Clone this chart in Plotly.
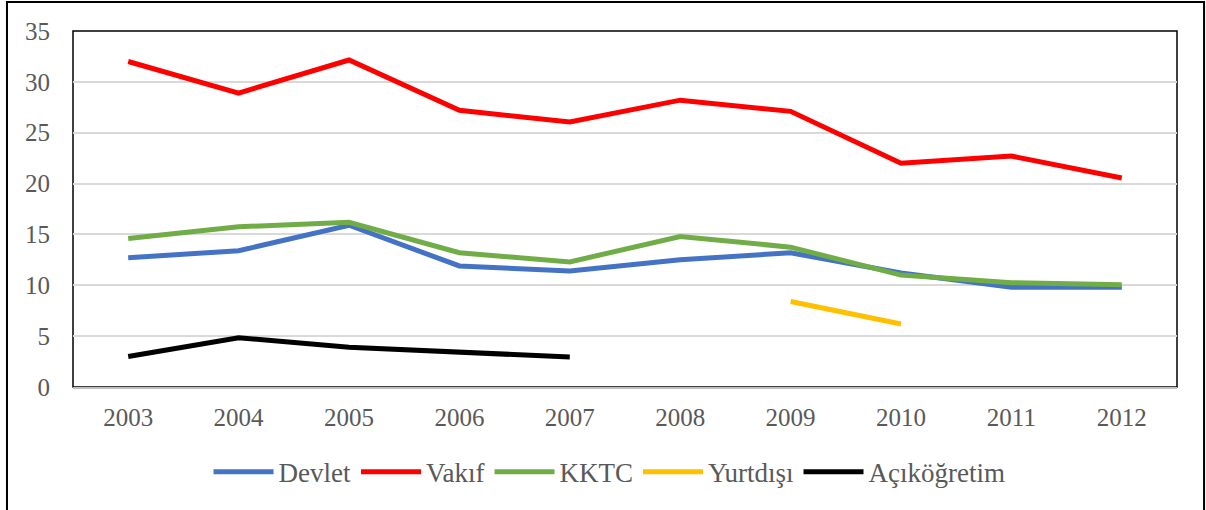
import plotly.graph_objects as go

years = ["2003", "2004", "2005", "2006", "2007", "2008", "2009", "2010", "2011", "2012"]
devlet = [12.7, 13.4, 15.9, 11.9, 11.4, 12.5, 13.2, 11.2, 9.8, 9.8]
vakif = [32.0, 28.9, 32.15, 27.2, 26.05, 28.2, 27.1, 22.0, 22.7, 20.55]
kktc = [14.6, 15.75, 16.2, 13.2, 12.3, 14.8, 13.75, 11.0, 10.25, 10.05]
yurtdisi = [None, None, None, None, None, None, 8.4, 6.2, None, None]
acikogretim = [3.0, 4.85, 3.9, 3.45, 2.95, None, None, None, None, None]

series = [
    ("Devlet", devlet, "#4472C4"),
    ("Vakıf", vakif, "#FF0000"),
    ("KKTC", kktc, "#70AD47"),
    ("Yurtdışı", yurtdisi, "#FFC000"),
    ("Açıköğretim", acikogretim, "#000000"),
]

FONT = "Liberation Serif"

fig = go.Figure()
for name, vals, color in series:
    fig.add_trace(go.Scatter(
        x=years, y=vals, name=name, mode="lines",
        line=dict(color=color, width=5),
        connectgaps=False,
    ))

fig.update_layout(
    width=1206, height=510,
    margin=dict(l=73, r=29, t=31, b=123),
    paper_bgcolor="white", plot_bgcolor="white",
    font=dict(family=FONT, size=25, color="#595959"),
    showlegend=True,
    legend=dict(
        orientation="h", x=0.486, xanchor="center", y=-0.239, yanchor="middle",
        font=dict(family=FONT, size=27, color="#595959"),
        itemwidth=60, tracegroupgap=0,
    ),
    xaxis=dict(
        type="category", range=[-0.5, 9.5], showgrid=False, showline=True,
        linecolor="#BFBFBF", linewidth=1.5,
        ticks="", ticklabelstandoff=7, tickfont=dict(family=FONT, size=25, color="#595959"),
    ),
    yaxis=dict(
        range=[0, 35], dtick=5, tick0=0, showgrid=True, gridcolor="#D9D9D9", gridwidth=1.5,
        zeroline=False, showline=False, ticks="", ticklabelstandoff=22,
        tickfont=dict(family=FONT, size=25, color="#595959"),
    ),
    shapes=[
        dict(type="rect", xref="paper", yref="paper", x0=0, x1=1, y0=0, y1=1,
             line=dict(color="#000000", width=1.5), layer="below"),
        dict(type="rect", xref="paper", yref="paper", x0=-0.0598, x1=1.0245, y0=-0.37, y1=1.0815,
             line=dict(color="#000000", width=2), layer="below"),
    ],
)

fig.write_html("out.html", config={"displayModeBar": False},
               post_script="document.body.style.margin='0';document.body.style.padding='0';")
